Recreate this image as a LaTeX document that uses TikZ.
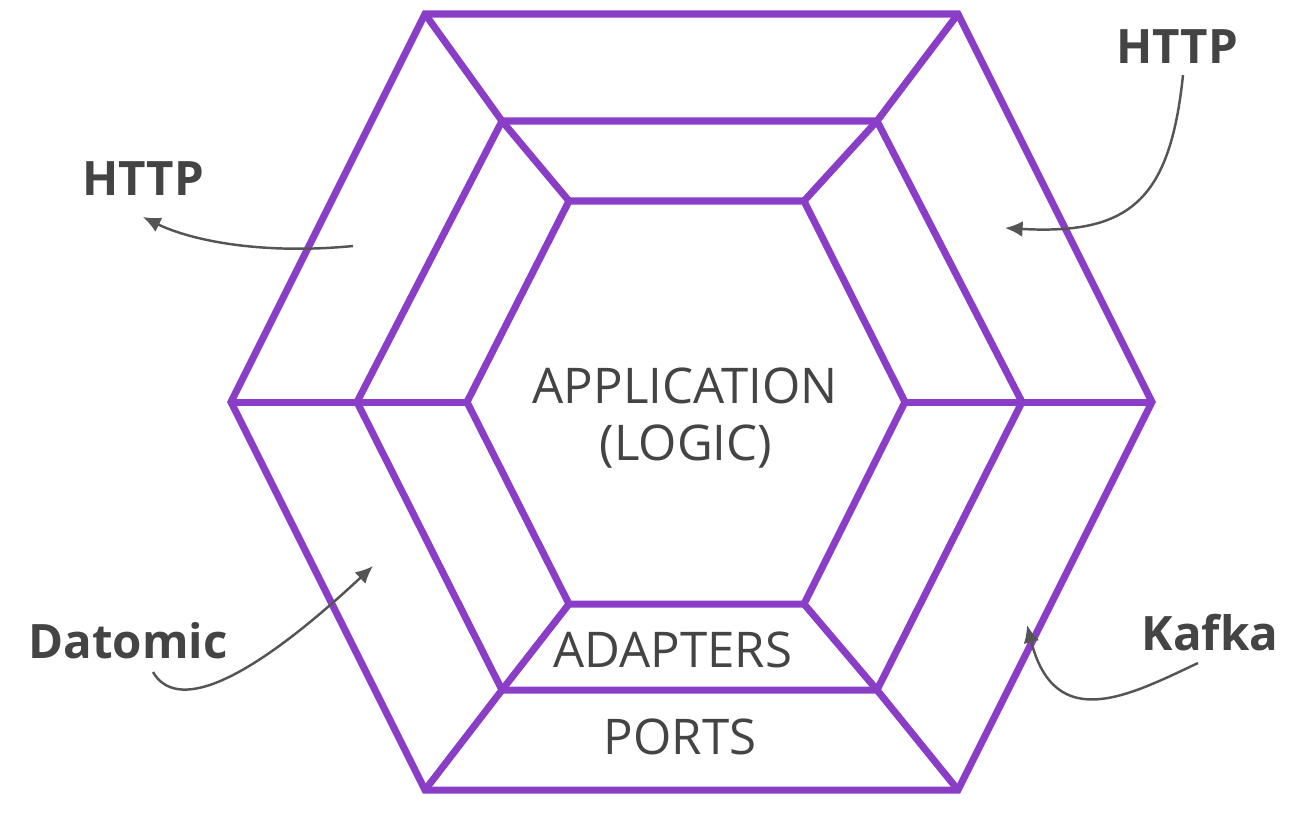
\documentclass[tikz,border=0pt]{standalone}
\usepackage{fontspec}
\setmainfont{Open Sans}
\usetikzlibrary{arrows.meta}
\definecolor{hexpurple}{RGB}{138,62,200}
\definecolor{textgray}{RGB}{68,68,68}
\definecolor{arrowgray}{RGB}{85,85,85}
\tikzset{
  ring/.style={draw=hexpurple, line width=4pt},
  layer/.style={text=textgray, font=\fontsize{28}{32}\selectfont, anchor=base, inner sep=0pt},
  tech/.style={text=textgray, font=\bfseries\fontsize{27}{31}\selectfont, anchor=base, inner sep=0pt},
  pointer/.style={draw=arrowgray, line width=1.4pt, -{Latex[length=10pt,width=9pt]}}
}

\begin{document}
\begin{tikzpicture}[x=0.02cm,y=-0.02cm]
        % Fix the canvas
        \useasboundingbox (0,0) rectangle (1310,816);

        % Corners of the three hexagons
        \coordinate (o1) at (425,14);  \coordinate (m1) at (502,121); \coordinate (i1) at (569,201);
        \coordinate (o2) at (958,14);  \coordinate (m2) at (877,121); \coordinate (i2) at (804,201);
        \coordinate (o3) at (1152,402); \coordinate (m3) at (1022,402); \coordinate (i3) at (905,402);
        \coordinate (o4) at (958,790); \coordinate (m4) at (877,690); \coordinate (i4) at (804,604);
        \coordinate (o5) at (425,790); \coordinate (m5) at (502,690); \coordinate (i5) at (569,604);
        \coordinate (o6) at (231,402); \coordinate (m6) at (357,402); \coordinate (i6) at (467,402);

        % Draw the hexagons
        \foreach \r in {o,m,i}
            \draw[ring] (\r1) -- (\r2) -- (\r3) -- (\r4) -- (\r5) -- (\r6) -- cycle;

        % Spokes joining the corners
        \foreach \k in {1,...,6}
            \draw[ring] (o\k) -- (m\k) -- (i\k);

        % Label the layers
        \node[layer] (app) at (685,403) {APPLICATION};
        \node[layer] (logic) at (686,460) {(LOGIC)};
        \node[layer] (adapters) at (673,667) {ADAPTERS};
        \node[layer] (ports) at (680,754) {PORTS};

        % Label the technologies
        \node[tech] (httpl) at (143,195) {HTTP};
        \node[tech] (httpr) at (1177,63) {HTTP};
        \node[tech] (datomic) at (128,658) {Datomic};
        \node[tech] (kafka) at (1210,650) {Kafka};

        % Ends of the pointers
        \coordinate (httplfrom) at (353,246);  \coordinate (httplto) at (143,217);
        \coordinate (httprfrom) at (1183,75);  \coordinate (httprto) at (1005,228);
        \coordinate (datomicfrom) at (153,672); \coordinate (datomicto) at (373,566);
        \coordinate (kafkafrom) at (1198,663); \coordinate (kafkato) at (1027,625);

        % Draw the pointers
        \draw[pointer] (httplfrom) .. controls (260,255) and (190,240) .. (httplto);
        \draw[pointer] (httprfrom) .. controls (1170,200) and (1130,235) .. (httprto);
        \draw[pointer] (datomicfrom) .. controls (175,710) and (240,690) .. (datomicto);
        \draw[pointer] (kafkafrom) .. controls (1130,695) and (1055,735) .. (kafkato);

    \end{tikzpicture}
\end{document}
